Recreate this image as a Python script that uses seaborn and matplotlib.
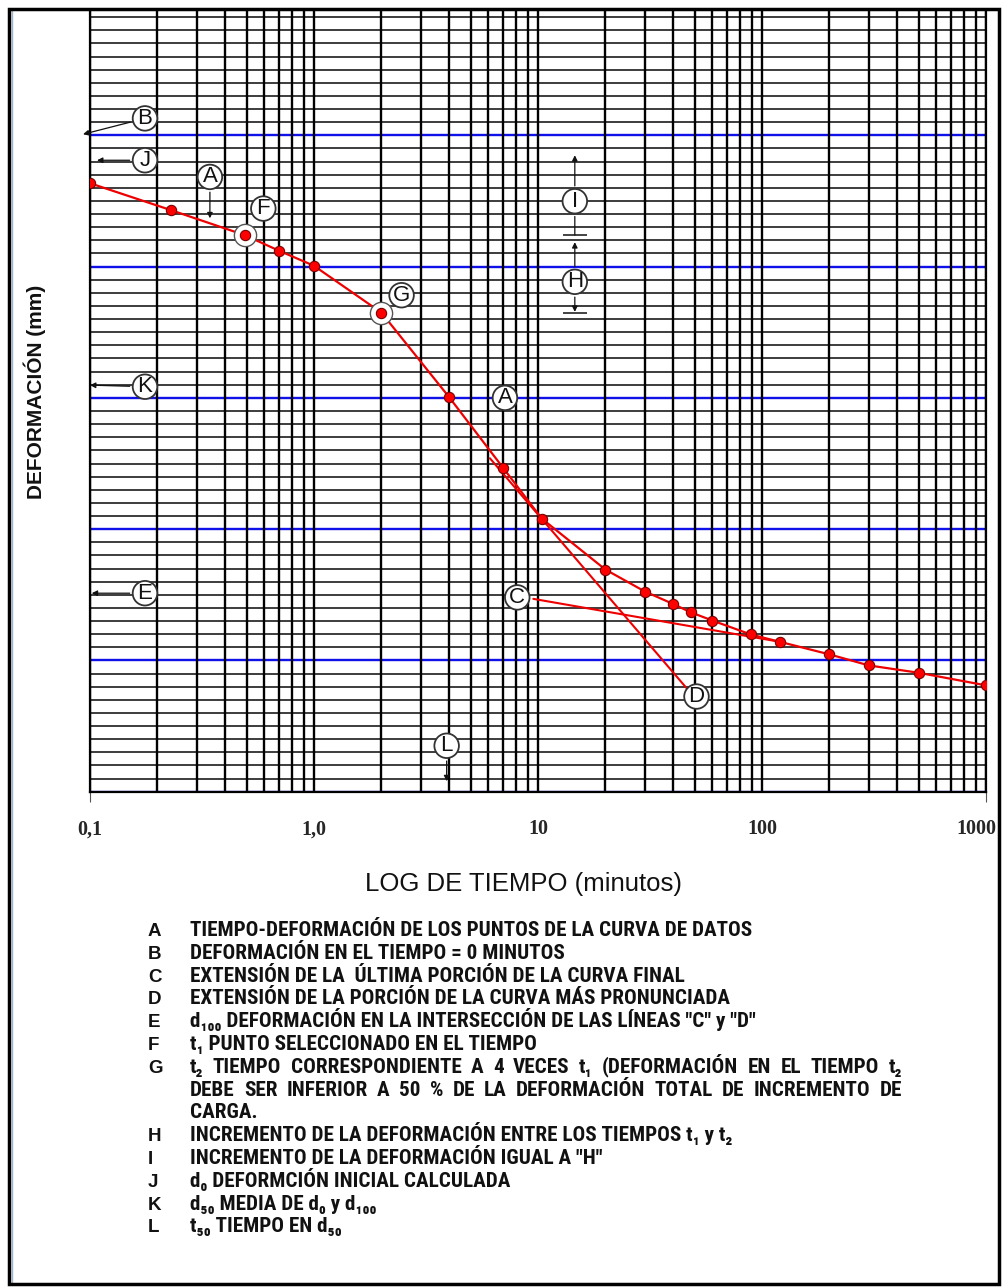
"""
Curva deformación vs log del tiempo (método de Casagrande)
"""

import numpy as np
import pandas as pd
import matplotlib
matplotlib.use("Agg")
import matplotlib.pyplot as plt
import matplotlib.transforms as mtransforms
import seaborn as sns
from matplotlib import font_manager
from matplotlib.patches import Rectangle
from matplotlib.lines import Line2D
from matplotlib.ticker import FixedLocator, LogLocator, MultipleLocator, NullFormatter

# --- datos de la curva (tiempo en minutos, deformación en unidades de la gráfica) ---
TIME_MIN = [0.1, 0.23, 0.49, 0.7, 1.0, 2.0, 4.0, 7.0, 10.4, 20, 30, 40, 48, 60,
            89, 120, 200, 300, 500, 1000]
DEFORMATION = [1.365, 1.570, 1.760, 1.880, 1.994, 2.351, 2.992, 3.535, 3.920,
               4.308, 4.475, 4.569, 4.633, 4.696, 4.802, 4.858, 4.954, 5.038,
               5.094, 5.190]
F_IDX = 2   # t1
G_IDX = 5   # t2 = 4 t1

# rectas de extensión "C" y "D"
C_LINE_T = [9.53, 120]
C_LINE_D = [4.531, 4.858]
D_LINE_T = [6.1, 46]
D_LINE_D = [3.46, 5.21]

# etiquetas en círculo
LABEL_KEYS = ["B", "J", "A", "F", "G", "I", "H", "K", "A", "E", "C", "D", "L"]
LABEL_T = [0.176, 0.176, 0.343, 0.594, 2.46, 14.6, 14.6, 0.176, 7.12, 0.176, 8.08, 51.0, 3.91]
LABEL_D = [0.871, 1.190, 1.317, 1.558, 2.218, 1.502, 2.116, 2.915, 3.000, 4.488, 4.520, 5.275, 5.650]

# flechas (desde la etiqueta hasta la punta)
ARROW_KEYS = ["B", "J", "A", "I", "H", "H", "K", "E", "L"]
ARROW_T = [0.0931, 0.1075, 0.343, 14.6, 14.6, 14.6, 0.1, 0.1018, 3.91]
ARROW_D = [0.992, 1.190, 1.632, 1.152, 1.814, 2.345, 2.903, 4.488, 5.920]

X_LIM = [0.1, 1000]
Y_LIM = [6.0, 0.05]
X_TICKS = [0.1, 1, 10, 100, 1000]
X_TICK_LABELS = ["0,1", "1,0", "10", "100", "1000"]

LEGEND_KEYS = ["A", "B", "C", "D", "E", "F", "G", "", "", "H", "I", "J", "K", "L"]
LEGEND_TEXT = [
    "TIEMPO-DEFORMACIÓN DE LOS PUNTOS DE LA CURVA DE DATOS",
    "DEFORMACIÓN EN EL TIEMPO = 0 MINUTOS",
    "EXTENSIÓN DE LA  ÚLTIMA PORCIÓN DE LA CURVA FINAL",
    "EXTENSIÓN DE LA PORCIÓN DE LA CURVA MÁS PRONUNCIADA",
    "d₁₀₀ DEFORMACIÓN EN LA INTERSECCIÓN DE LAS LÍNEAS \"C\" y \"D\"",
    "t₁ PUNTO SELECCIONADO EN EL TIEMPO",
    "t₂ TIEMPO CORRESPONDIENTE A 4 VECES t₁ (DEFORMACIÓN EN EL TIEMPO t₂",
    "DEBE SER INFERIOR A 50 % DE LA DEFORMACIÓN TOTAL DE INCREMENTO DE",
    "CARGA.",
    "INCREMENTO DE LA DEFORMACIÓN ENTRE LOS TIEMPOS t₁ y t₂",
    "INCREMENTO DE LA DEFORMACIÓN IGUAL A \"H\"",
    "d₀ DEFORMCIÓN INICIAL CALCULADA",
    "d₅₀ MEDIA DE d₀ y d₁₀₀",
    "t₅₀ TIEMPO EN d₅₀",
]
LEGEND_JUSTIFY = [False] * 6 + [True, True] + [False] * 6

W_PX, H_PX = 1003, 1288

sns.set_theme(style="white")
plt.rcParams["font.family"] = ["Liberation Sans", "DejaVu Sans"]


def fx(x):
    return x / W_PX


def fy(y):
    return 1 - y / H_PX


def pick_condensed_family():
    """Busca una fuente estrecha instalada para el texto de la leyenda."""
    fonts = font_manager.fontManager.ttflist
    names = {f.name for f in fonts}
    for name in ["Liberation Sans Narrow", "DejaVu Sans Condensed",
                 "Roboto Condensed", "Open Sans Condensed"]:
        if name in names:
            return name, "normal"
    for f in fonts:
        if str(f.stretch) in ("condensed", "semi-condensed"):
            return f.name, "condensed"
    return "Liberation Sans", "normal"


def text_width(fig, renderer, s, **kw):
    t = fig.text(0, 0, s, **kw)
    w = t.get_window_extent(renderer).width
    t.remove()
    return w


def draw_justified(fig, renderer, line, x0, x1, y, **kw):
    words = line.split(" ")
    widths = [text_width(fig, renderer, w, **kw) for w in words]
    gap = (x1 - x0 - sum(widths)) / (len(words) - 1)
    x = x0
    for w, wd in zip(words, widths):
        fig.text(fx(x), fy(y), w, va="baseline", ha="left", **kw)
        x += wd + gap


fig = plt.figure(figsize=(W_PX / 100, H_PX / 100), dpi=100)
ax = fig.add_axes([fx(90), fy(791.7), (986 - 90) / W_PX, (791.7 - 10.6) / H_PX])

# --- rejilla semilogarítmica ---
ax.set_xscale("log")
ax.set_xlim(X_LIM)
ax.set_ylim(Y_LIM)
ax.xaxis.set_major_locator(FixedLocator(X_TICKS))
ax.xaxis.set_minor_locator(LogLocator(base=10, subs=np.arange(2, 10)))
ax.xaxis.set_minor_formatter(NullFormatter())
ax.yaxis.set_major_locator(MultipleLocator(1.0))
ax.yaxis.set_minor_locator(MultipleLocator(0.1))
ax.grid(which="both", axis="x", color="black", lw=1.7)
ax.grid(which="major", axis="y", color="#1010e8", lw=1.7)
ax.grid(which="minor", axis="y", color="#111111", lw=1.15)
ax.xaxis.set_zorder(2.6)
ax.tick_params(which="both", length=0)
ax.tick_params(axis="y", labelleft=False)
ax.tick_params(axis="x", pad=20)
ax.set_xticks(X_TICKS, labels=X_TICK_LABELS, fontfamily="Liberation Serif",
              fontweight="bold", fontsize=14.5)
last = ax.get_xticklabels()[-1]
last.set_transform(last.get_transform()
                   + mtransforms.ScaledTranslation(-10 / 100, 0, fig.dpi_scale_trans))
for side in ["left", "right", "bottom"]:
    ax.spines[side].set_visible(True)
    ax.spines[side].set_color("black")
    ax.spines[side].set_linewidth(1.6)
ax.spines["top"].set_visible(False)
ax.vlines(X_LIM, Y_LIM[0], Y_LIM[0] + 0.08, color="#555555", lw=0.8, clip_on=False)

# --- curva de datos ---
df = pd.DataFrame({"t": TIME_MIN, "d": DEFORMATION})
sns.lineplot(data=df, x="t", y="d", color="#ee0000", lw=1.6, ax=ax, zorder=3)
ax.plot(C_LINE_T, C_LINE_D, color="#ee0000", lw=1.5, zorder=3)
ax.plot(D_LINE_T, D_LINE_D, color="#ee0000", lw=1.5, zorder=3)
sel = df.iloc[[F_IDX, G_IDX]]
ax.plot(sel["t"], sel["d"], "o", ms=16, mfc="white", mec="#555555", mew=1.0,
        zorder=4, ls="none")
sns.scatterplot(data=df, x="t", y="d", color="#ff0000", edgecolor="#7a0000",
                linewidth=0.8, s=55, ax=ax, zorder=5, legend=False)
ax.set_xlabel("")
ax.set_ylabel("")

# --- etiquetas y flechas ---
label_pos = {}
for key, t, d in zip(LABEL_KEYS, LABEL_T, LABEL_D):
    label_pos.setdefault(key, (t, d))
    ax.text(t, d, key, ha="center", va="center", fontsize=16, color="#111111",
            bbox=dict(boxstyle="circle,pad=0.08", fc="white", ec="#333333", lw=1.3),
            zorder=7, clip_on=False)

for key, t, d in zip(ARROW_KEYS, ARROW_T, ARROW_D):
    ax.annotate("", xy=(t, d), xytext=label_pos[key], annotation_clip=False,
                arrowprops=dict(arrowstyle="-|>", color="#111111", lw=0.9,
                                shrinkA=11, shrinkB=0, mutation_scale=8),
                zorder=6)

# segmento bajo "I" y topes de H / I en d(t1) y d(t2)
t_hi = label_pos["I"][0]
ax.annotate("", xy=(t_hi, DEFORMATION[F_IDX]), xytext=label_pos["I"],
            arrowprops=dict(arrowstyle="-", color="#111111", lw=0.9,
                            shrinkA=11, shrinkB=0), zorder=6)
ax.plot([t_hi, t_hi], [DEFORMATION[F_IDX], DEFORMATION[G_IDX]], ls="none",
        marker="_", ms=17, mew=1.1, color="#111111", zorder=6)

# --- títulos de ejes ---
fig.text(fx(35), fy(391.7), "DEFORMACIÓN (mm)", rotation=90, ha="center",
         va="center", fontsize=15, fontweight="bold", color="#111111")
fig.text(fx(524), fy(884), "LOG DE TIEMPO (minutos)", ha="center", va="center",
         fontsize=18.5, color="#111111")

# --- leyenda de letras ---
renderer = fig.canvas.get_renderer()
cond_family, cond_stretch = pick_condensed_family()
legend_kw = dict(family=[cond_family, "DejaVu Sans"], stretch=cond_stretch,
                 fontweight="bold", color="#111111")
probe_w = text_width(fig, renderer, LEGEND_TEXT[0], fontsize=10, **legend_kw)
legend_kw["fontsize"] = 10 * 558 / probe_w

for i, (key, line, just) in enumerate(zip(LEGEND_KEYS, LEGEND_TEXT, LEGEND_JUSTIFY)):
    y_base = 929 + 22.8 * i + 7
    if key:
        fig.text(fx(148), fy(y_base), key, ha="left", va="baseline", fontsize=13.5,
                 fontweight="bold", color="#111111")
    if just:
        draw_justified(fig, renderer, line, 190, 902, y_base, **legend_kw)
    else:
        fig.text(fx(190), fy(y_base), line, ha="left", va="baseline", **legend_kw)

# --- marco de la figura ---
fig.patches.append(Rectangle((fx(9), fy(1284)), (999 - 9) / W_PX, (1284 - 9) / H_PX,
                             transform=fig.transFigure, fill=False, ec="black",
                             lw=2.5, zorder=10))
fig.lines.append(Line2D([fx(12.5), fx(12.5)], [fy(11), fy(1282)],
                        transform=fig.transFigure, color="#9fb4d0", lw=1.0))

fig.savefig("out.png", dpi=100, facecolor="white")
